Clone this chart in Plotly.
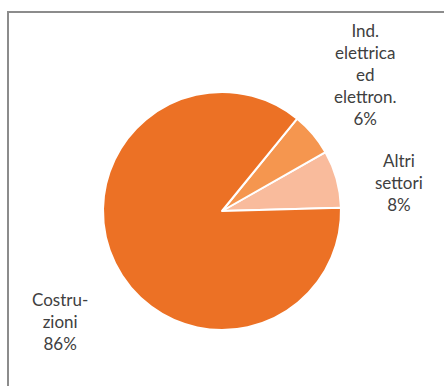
import plotly.graph_objects as go

labels = ["Altri settori", "Ind. elettrica ed elettron.", "Costruzioni"]
values = [7.8, 5.9, 86.3]
colors = ["#F9BB9C", "#F5964F", "#EC7125"]
label_text = ["Altri<br>settori<br>8%", "Ind.<br>elettrica<br>ed<br>elettron.<br>6%", "Costru-<br>zioni<br>86%"]
label_xy = [(399, 182), (365, 74), (60, 321)]

W, H = 444, 386

fig = go.Figure()
fig.add_trace(go.Pie(
    labels=labels,
    values=values,
    sort=False,
    direction="counterclockwise",
    rotation=60.4,
    marker=dict(colors=colors, line=dict(color="white", width=2)),
    textinfo="none",
    hoverinfo="label+percent",
    showlegend=False,
    domain=dict(x=[103 / W, 341 / W], y=[56 / H, 294 / H]),
))

for txt, (x, y) in zip(label_text, label_xy):
    fig.add_annotation(
        x=x / W, y=1 - y / H, xref="paper", yref="paper",
        text=txt, showarrow=False, align="center",
        xanchor="center", yanchor="middle",
        font=dict(family="Lato", size=17, color="#404040"),
    )

# chart frame: only the top and left edges are visible in the crop
frame = dict(color="#8C8C8C", width=2)
fig.add_shape(type="line", xref="paper", yref="paper",
              x0=7 / W, x1=1, y0=1 - 12 / H, y1=1 - 12 / H, line=frame)
fig.add_shape(type="line", xref="paper", yref="paper",
              x0=8 / W, x1=8 / W, y0=0, y1=1 - 11 / H, line=frame)

fig.update_layout(
    width=W, height=H,
    margin=dict(l=0, r=0, t=0, b=0),
    paper_bgcolor="white",
    plot_bgcolor="white",
)
fig.write_html("out.html", config={"displayModeBar": False},
               post_script="document.body.style.margin='0';")
